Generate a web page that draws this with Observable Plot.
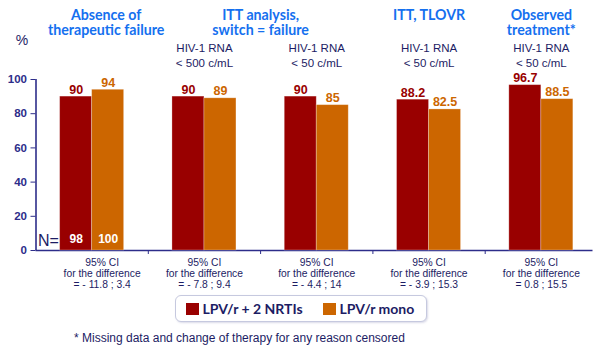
<!DOCTYPE html>
<html><head><meta charset="utf-8">
<script src="https://cdn.jsdelivr.net/npm/d3@7"></script>
<script src="https://cdn.jsdelivr.net/npm/@observablehq/plot@0.6"></script>
<style>
html,body{margin:0;padding:0;background:#fff;}
#wrap{position:relative;width:600px;height:352px;overflow:hidden;font-family:"Liberation Sans",Arial,sans-serif;color:#1c1c64;}
#wrap svg{display:block;}
#legend{position:absolute;left:175px;top:295px;width:252px;height:27px;box-sizing:border-box;border:1.5px solid #c6c9df;border-radius:6px;box-shadow:1px 1px 2px rgba(150,150,190,0.35);display:flex;align-items:center;padding-left:9.5px;font-family:Lato,"Open Sans",sans-serif;font-weight:bold;font-size:14px;color:#1c1c64;background:#fff;}
#legend .sw{display:inline-block;width:13px;height:12px;}
#legend .lab{margin-left:4px;}
#legend .gap{margin-left:20px;}
#foot{position:absolute;left:74px;top:331px;font-size:12px;line-height:14px;color:#1c1c64;white-space:nowrap;}
</style></head><body>
<div id="wrap"></div>
<script>
// ---- data ----
const groups = ["Absence of therapeutic failure", "ITT <500", "ITT <50", "ITT TLOVR", "Observed treatment"];
const seriesNames = ["LPV/r + 2 NRTIs", "LPV/r mono"];
const tripleValues = [90, 90, 90, 88.2, 96.7];
const monoValues = [94, 89, 85, 82.5, 88.5];
const titles = ["Absence of\ntherapeutic failure", "ITT analysis,\nswitch = failure", "ITT, TLOVR", "Observed\ntreatment*"];
const titleGroups = [[0], [1, 2], [3], [4]];
const rnaLabels = ["", "HIV-1 RNA\n< 500 c/mL", "HIV-1 RNA\n< 50 c/mL", "HIV-1 RNA\n< 50 c/mL", "HIV-1 RNA\n< 50 c/mL"];
const ciLabels = ["95% CI\nfor the difference\n= - 11.8 ; 3.4", "95% CI\nfor the difference\n= - 7.8 ; 9.4", "95% CI\nfor the difference\n= - 4.4 ; 14", "95% CI\nfor the difference\n= - 3.9 ; 15.3", "95% CI\nfor the difference\n= 0.8 ; 15.5"];
const nCounts = [98, 100];
const yTicks = [0, 20, 40, 60, 80, 100];
const footnote = "* Missing data and change of therapy for any reason censored";

// ---- style ----
const colors = ["#990000", "#cc6600"];
const navy = "#1c1c64";
const axisColor = "#2d2d8a";
const titleBlue = "#1570ef";
const barW = 0.285;
const titleFont = "Lato, 'Open Sans', sans-serif";

const bars = groups.flatMap((g, i) => [
  {i, s: 0, series: seriesNames[0], v: tripleValues[i]},
  {i, s: 1, series: seriesNames[1], v: monoValues[i]}
]);
const nData = nCounts.map((n, s) => ({i: 0, s, n}));
const titleData = titles.map((t, k) => ({k, text: t, x: d3.mean(titleGroups[k])}));
const rnaData = rnaLabels.map((t, i) => ({i, text: t})).filter(d => d.text);
const ciData = ciLabels.map((t, i) => ({i, text: t}));
const barX1 = d => d.s === 0 ? d.i - barW : d.i;
const barX2 = d => d.s === 0 ? d.i : d.i + barW;
const barMid = d => d.s === 0 ? d.i - barW / 2 : d.i + barW / 2;

const plot = Plot.plot({
  width: 600, height: 352,
  marginLeft: 35.5, marginRight: 7.5, marginTop: 79, marginBottom: 102,
  style: {fontFamily: "'Liberation Sans', Arial, sans-serif", fontSize: "11.5px", fontWeight: "bold", color: axisColor, background: "white", overflow: "visible"},
  x: {type: "linear", domain: [-0.5, 4.46], ticks: [0.5, 1.5, 2.5, 3.5], tickFormat: () => "", tickSize: 4, label: null},
  y: {domain: [0, 100], ticks: yTicks, tickSize: 5, tickPadding: 4, label: null, line: false},
  color: {domain: seriesNames, range: colors},
  marks: [
    Plot.ruleY([0], {stroke: axisColor, strokeWidth: 1.5}),
    Plot.ruleX([-0.5], {y1: 0, y2: 100, stroke: axisColor, strokeWidth: 1.6}),
    Plot.rect(bars, {x1: barX1, x2: barX2, y1: () => 0, y2: "v", fill: "series", stroke: "white", strokeOpacity: 0.35, strokeWidth: 0.8}),
    Plot.text(bars, {x: barMid, y: "v", text: d => String(d.v), fill: "series", lineAnchor: "bottom", dy: -3, fontSize: 12.5, fontWeight: "bold"}),
    Plot.text(nData, {x: barMid, y: () => 0, text: d => String(d.n), fill: "white", lineAnchor: "bottom", dy: -8, fontSize: 12, fontWeight: "bold"}),
    Plot.text(["N="], {x: () => -0.5, y: () => 0, text: d => d, fill: navy, textAnchor: "start", lineAnchor: "bottom", dx: 2, dy: -5, fontSize: 16, fontWeight: "normal"}),
    Plot.text(["%"], {x: () => -0.5, frameAnchor: "top", text: d => d, fill: navy, lineAnchor: "middle", dx: -14, dy: -38.5, fontSize: 14, fontWeight: "normal"}),
    Plot.text(titleData.filter(d => d.k === 0), {x: "x", text: "text", frameAnchor: "top", lineAnchor: "top", dy: -70, dx: 14, fill: titleBlue, fontFamily: titleFont, fontSize: 14.2, fontWeight: "bold", lineHeight: 1.03}),
    Plot.text(titleData.filter(d => d.k !== 0), {x: "x", text: "text", frameAnchor: "top", lineAnchor: "top", dy: -70, fill: titleBlue, fontFamily: titleFont, fontSize: 14.2, fontWeight: "bold", lineHeight: 1.03}),
    Plot.text(rnaData, {x: "i", text: "text", frameAnchor: "top", lineAnchor: "top", dy: -37.2, fill: navy, fontSize: 11.5, fontWeight: "normal", lineHeight: 1.24}),
    Plot.text(ciData.filter(d => d.i === 0), {x: "i", text: "text", frameAnchor: "bottom", lineAnchor: "top", dy: 8.1, dx: 10, fill: navy, fontSize: 10.3, fontWeight: "normal", lineHeight: 1.05}),
    Plot.text(ciData.filter(d => d.i !== 0), {x: "i", text: "text", frameAnchor: "bottom", lineAnchor: "top", dy: 8.1, fill: navy, fontSize: 10.3, fontWeight: "normal", lineHeight: 1.05})
  ]
});

const wrap = document.getElementById("wrap");
wrap.appendChild(plot);

const legend = document.createElement("div");
legend.id = "legend";
seriesNames.forEach((name, s) => {
  const sw = document.createElement("span");
  sw.className = "sw" + (s > 0 ? " gap" : "");
  sw.style.background = colors[s];
  const lab = document.createElement("span");
  lab.className = "lab";
  lab.textContent = name;
  legend.appendChild(sw);
  legend.appendChild(lab);
});
wrap.appendChild(legend);

const foot = document.createElement("div");
foot.id = "foot";
foot.textContent = footnote;
wrap.appendChild(foot);
</script>
</body></html>
